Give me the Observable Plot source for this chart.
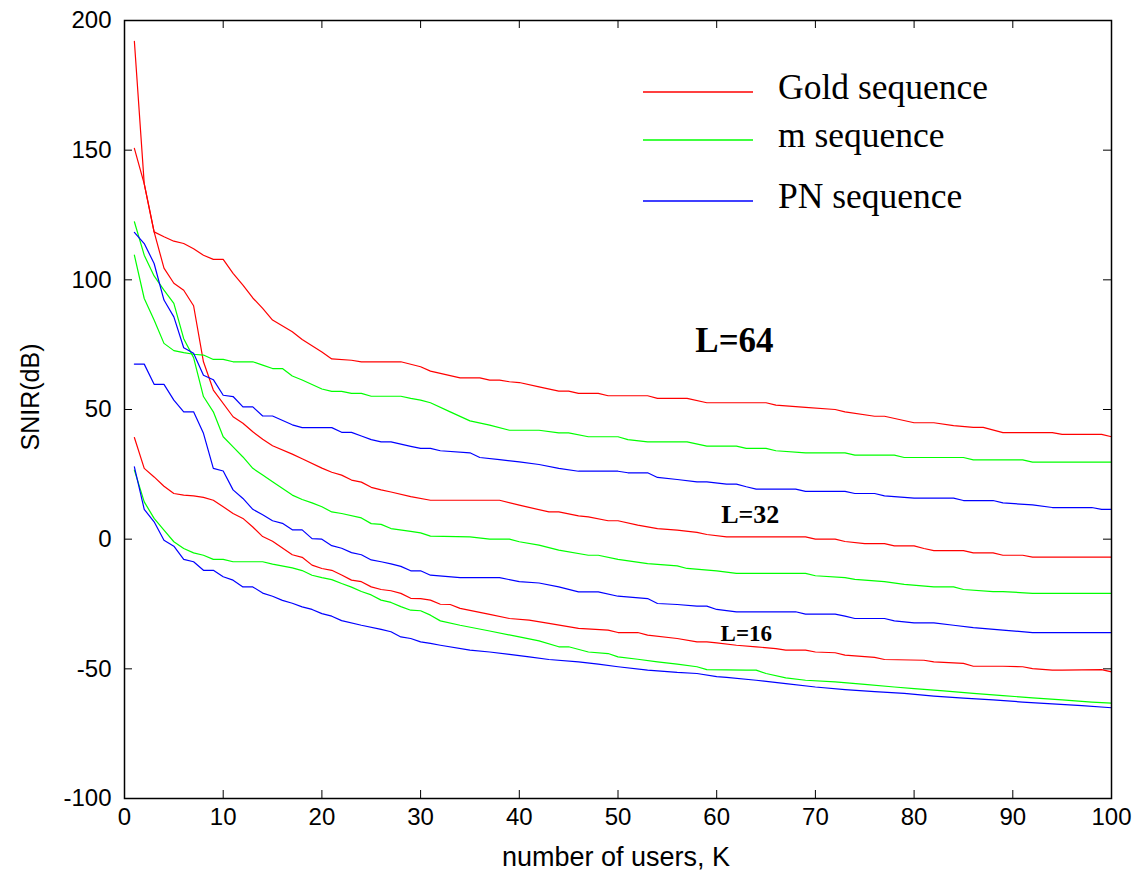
<!DOCTYPE html>
<html><head><meta charset="utf-8">
<script src="https://cdn.jsdelivr.net/npm/d3@7"></script>
<script src="https://cdn.jsdelivr.net/npm/@observablehq/plot@0.6"></script>
<style>
body{margin:0;background:#fff}
#wrap{position:relative;width:1141px;height:874px;background:#fff}
.ov{position:absolute;left:0;top:0}
</style></head><body><div id="wrap"></div>
<script>
const sequences = ["Gold sequence", "m sequence", "PN sequence"];
const colors = ["#ff0000", "#00ff00", "#0000ff"];
const xTicks = [0,10,20,30,40,50,60,70,80,90,100];
const yTicks = [-100,-50,0,50,100,150,200];

const gold64 = [[1,150.7],[2,137],[3,118.5],[4,116.6],[5,114.9],[6,114],[7,112],[8,109.5],[9,107.9],[10,107.9],[11,102.5],[12,98],[13,93],[14,89],[15,84.5],[17,80],[18,77],[20,72.2],[21,69.5],[23,69],[24,68.4],[28,68.4],[30,66.5],[31,64.8],[32,63.9],[34,62.2],[36,62.2],[37,61.3],[38,61.3],[39,60.7],[40,60.4],[42,58.7],[44,57.1],[45,57.1],[46,56.2],[48,56.2],[49,55.3],[53,55.3],[54,54.3],[57,54.3],[59,52.6],[65,52.6],[66,51.7],[69,50.8],[72,50],[73,49.1],[76,47.4],[77,47.4],[80,44.9],[82,44.9],[84,43.8],[86,43.1],[87,43.1],[89,41.1],[94,41.1],[95,40.4],[99,40.4],[100,39.5]];
const gold32 = [[1,192],[2,137],[3,118.5],[4,104.5],[5,98.7],[6,96],[7,90],[8,68.4],[9,57.5],[11,47.2],[12,44.7],[13,41.4],[14,38.5],[15,36],[17,32.8],[18,31],[20,27.4],[21,25.8],[22,24.7],[23,22.8],[24,22],[25,20],[26,19],[27,18.2],[29,16.4],[31,15],[38,15],[40,13.1],[43,10.5],[44,10.5],[46,9],[47,8.6],[49,7.1],[50,7.1],[52,5.4],[54,4.1],[56,3.5],[58,2.6],[59,1.8],[61,0.9],[69,0.9],[70,0],[72,0],[73,-0.9],[75,-1.7],[77,-1.7],[78,-2.6],[80,-2.6],[81,-3.6],[82,-4.4],[85,-4.4],[86,-5.3],[88,-5.3],[89,-6.2],[91,-6.2],[92,-6.9],[100,-6.9]];
const gold16 = [[1,39.2],[2,27.3],[3,24],[4,20.4],[5,17.6],[6,17],[7,16.7],[8,16.1],[9,15],[10,12.5],[11,9.9],[12,8],[13,4.7],[14,1],[15,-0.8],[17,-6],[18,-7],[19,-10],[20,-11.3],[21,-12],[22,-13.8],[23,-15.8],[24,-16.4],[25,-18.4],[26,-19.4],[27,-19.9],[28,-20.9],[29,-22.8],[30,-22.9],[31,-23.5],[32,-25.1],[33,-25.2],[34,-26.7],[37,-29],[39,-30.6],[41,-31.2],[43,-32.5],[46,-34.4],[49,-35.1],[50,-36],[52,-36],[53,-37],[56,-38.3],[58,-39.6],[59,-39.6],[60,-40],[62,-40.9],[64,-41.5],[66,-42.2],[67,-42.8],[69,-42.8],[70,-43.5],[72,-43.8],[73,-44.7],[76,-45.6],[77,-46.4],[81,-46.7],[82,-47.3],[85,-47.9],[86,-49],[89,-49],[91,-49.2],[92,-49.9],[94,-50.5],[95,-50.5],[99,-50.3],[100,-51.2]];
const m64 = [[1,109.5],[2,92.8],[3,84.5],[4,75.5],[5,72.7],[6,71.9],[7,71.3],[8,71],[9,69.3],[10,69.3],[11,68.4],[13,68.4],[14,67.1],[15,65.8],[16,65.8],[17,62.9],[18,61.4],[20,57.9],[21,57],[22,57],[23,56.2],[24,56.2],[25,55.1],[28,55.1],[29,54.3],[30,53.6],[31,52.6],[33,49.1],[35,45.6],[37,44],[39,42],[42,42],[44,41],[45,41],[47,39.5],[50,39.5],[51,38.4],[53,37.5],[57,37.5],[59,35.9],[62,35.9],[63,35],[65,35],[66,34.1],[69,33.3],[73,33.3],[74,32.4],[78,32.4],[79,31.5],[85,31.5],[86,30.6],[91,30.6],[92,29.7],[100,29.7]];
const m32 = [[1,122.4],[2,109.5],[3,101.5],[4,96],[5,90.9],[6,77.3],[7,70],[8,55],[9,49.1],[10,39.5],[11,35.6],[12,31.7],[13,27.3],[14,24.7],[15,22.1],[17,17],[18,15.3],[19,14],[20,12.5],[21,10.5],[22,9.9],[24,8.2],[25,6],[26,5.7],[27,4.1],[29,3],[30,2.4],[31,1.2],[35,0.9],[37,0],[39,0],[40,-1],[42,-2.3],[44,-4.2],[47,-6.2],[48,-6.2],[50,-7.8],[53,-9.4],[56,-10.3],[57,-11.3],[60,-12.2],[62,-13.2],[69,-13.2],[70,-14.1],[73,-14.8],[74,-15.5],[77,-16.4],[79,-17.4],[82,-18.4],[84,-18.4],[85,-19.4],[88,-20.2],[89,-20.2],[92,-20.9],[100,-20.9]];
const m16 = [[1,26.6],[2,14.4],[3,8],[4,3.5],[5,-1],[6,-3.6],[7,-5.3],[8,-6.2],[9,-7.8],[10,-7.8],[11,-8.7],[14,-8.7],[15,-9.6],[17,-11.1],[18,-12.1],[19,-13.9],[20,-14.8],[21,-15.6],[22,-17.1],[23,-18.5],[24,-20.2],[25,-21.5],[26,-23.5],[27,-24.4],[28,-26],[29,-27.4],[30,-27.6],[31,-29.3],[32,-31.5],[34,-33.2],[37,-35.4],[40,-37.7],[42,-39.2],[44,-41.5],[45,-41.5],[47,-43.5],[49,-44.1],[50,-45.4],[52,-46.3],[54,-47.3],[56,-48.2],[58,-49.2],[59,-50.3],[63,-50.5],[64,-50.5],[65,-51.8],[67,-53.5],[69,-54.4],[72,-55],[75,-56],[78,-57],[80,-57.6],[83,-58.5],[86,-59.5],[89,-60.3],[92,-61.2],[95,-62],[98,-62.8],[100,-63.2]];
const pn64 = [[1,118.3],[2,114],[3,106.3],[4,92.2],[5,85.7],[6,73.8],[7,71.7],[8,63.2],[9,61.5],[10,55.5],[11,55],[12,51],[13,51],[14,47.5],[15,47.5],[17,44.1],[18,43],[21,43],[22,41.2],[23,41.2],[24,39.8],[25,38.4],[26,37.5],[27,37.5],[29,35.8],[30,35],[31,35],[32,34.1],[35,33.3],[36,31.5],[38,30.7],[40,29.8],[42,28.8],[44,27.3],[46,26.2],[50,26.2],[51,25.6],[53,25.6],[54,23.8],[56,23],[58,22.1],[59,22.1],[61,21.2],[62,21.2],[63,20.2],[64,19.3],[68,19.3],[69,18.4],[73,18.4],[74,17.6],[76,17.6],[77,16.7],[80,15.8],[84,15.8],[85,14.9],[88,14.9],[89,14],[92,13.2],[94,12.2],[98,12.2],[99,11.5],[100,11.5]];
const pn32 = [[1,67.5],[2,67.5],[3,59.7],[4,59.7],[5,53.6],[6,49.1],[7,49.1],[8,40.8],[9,27.3],[10,26.3],[11,19],[12,15.7],[13,11.5],[14,9.4],[15,7.1],[16,6.1],[17,3.6],[18,3.6],[19,0.2],[20,0],[21,-2.5],[22,-3.5],[23,-5.2],[24,-6],[25,-8],[26,-8.7],[27,-9.5],[28,-10.5],[29,-12.2],[30,-12.2],[31,-13.9],[34,-14.8],[38,-14.8],[40,-16.4],[42,-16.9],[44,-18.4],[46,-20.3],[48,-20.3],[50,-22],[53,-22.9],[54,-24.8],[56,-25.2],[58,-25.8],[59,-25.8],[60,-27.1],[62,-28],[68,-28],[69,-28.9],[72,-28.9],[73,-29.7],[74,-30.6],[77,-30.6],[78,-31.5],[80,-32.3],[82,-32.3],[84,-33.2],[86,-34.1],[89,-35.1],[92,-36],[100,-36]];
const pn16 = [[1,27.9],[2,11.5],[3,6.7],[4,-0.4],[5,-2.7],[6,-7.8],[7,-8.7],[8,-12],[9,-12],[10,-14.5],[11,-15.8],[12,-18.4],[13,-18.4],[14,-20.8],[15,-22],[16,-23.6],[17,-24.7],[18,-26.1],[19,-27.1],[20,-28.7],[21,-29.7],[22,-31.4],[24,-33.2],[26,-34.8],[27,-35.7],[28,-37.7],[29,-38.3],[30,-39.6],[31,-40.2],[32,-40.9],[35,-42.8],[37,-43.5],[39,-44.4],[41,-45.4],[43,-46.4],[46,-47.3],[48,-48.2],[50,-49.2],[53,-50.5],[56,-51.4],[58,-51.8],[60,-53],[61,-53.3],[64,-54.4],[67,-55.7],[70,-57],[73,-58],[76,-58.8],[79,-59.5],[82,-60.5],[85,-61.3],[88,-62],[91,-62.8],[94,-63.5],[97,-64.2],[100,-65]];

const annotations = [
  {text: "L=64", K: 61.8, v: 76.5, size: 35},
  {text: "L=32", K: 63.4, v: 9.6, size: 26},
  {text: "L=16", K: 63.0, v: -36.3, size: 23}
];

const series = [
  {seq: "Gold sequence", L: 64, pts: gold64},
  {seq: "Gold sequence", L: 32, pts: gold32},
  {seq: "Gold sequence", L: 16, pts: gold16},
  {seq: "m sequence", L: 64, pts: m64},
  {seq: "m sequence", L: 32, pts: m32},
  {seq: "m sequence", L: 16, pts: m16},
  {seq: "PN sequence", L: 64, pts: pn64},
  {seq: "PN sequence", L: 32, pts: pn32},
  {seq: "PN sequence", L: 16, pts: pn16}
];
const rows = series.flatMap(s => s.pts.map(([K, v]) => ({K, v, seq: s.seq, id: s.seq + " " + s.L})));

const W = 1141, H = 874, mL = 124, mR = 30, mT = 20, mB = 76;
const frameW = W - mL - mR, frameH = H - mT - mB, tick = 8;
const sans = '"Liberation Sans", Arial, sans-serif';
const serif = '"Liberation Serif", "Times New Roman", serif';

const chart = Plot.plot({
  width: W, height: H,
  marginLeft: mL, marginRight: mR, marginTop: mT, marginBottom: mB,
  x: {domain: [0, 100]},
  y: {domain: [-100, 200]},
  color: {domain: sequences, range: colors},
  style: {fontFamily: sans, background: "#fff", color: "#000"},
  marks: [
    Plot.ruleX(xTicks, {x: d => d, insetTop: frameH - tick, stroke: "#000"}),
    Plot.ruleX(xTicks, {x: d => d, insetBottom: frameH - tick, stroke: "#000"}),
    Plot.ruleY(yTicks, {y: d => d, insetRight: frameW - tick, stroke: "#000"}),
    Plot.ruleY(yTicks, {y: d => d, insetLeft: frameW - tick, stroke: "#000"}),
    Plot.axisX(xTicks, {tickSize: 0, tickPadding: 9, fontSize: 24, label: null, tickFormat: d => String(d)}),
    Plot.axisY(yTicks, {tickSize: 0, tickPadding: 13, fontSize: 24, label: null, tickFormat: d => String(d)}),
    Plot.lineY(rows, {x: "K", y: "v", z: "id", stroke: "seq", strokeWidth: 1.2}),
    Plot.text(annotations, {x: "K", y: "v", text: "text", fontSize: d => d.size, fontWeight: "bold", fontFamily: serif, fill: "#000"}),
    Plot.frame({stroke: "#000", strokeWidth: 1.5})
  ]
});
const wrap = document.getElementById("wrap");
wrap.appendChild(chart);

// legend overlay
const legendY = [92, 140, 201];
const svg = d3.select(wrap).append("svg").attr("class", "ov").attr("width", W).attr("height", H);
sequences.forEach((s, i) => {
  svg.append("line").attr("x1", 643).attr("x2", 753).attr("y1", legendY[i]).attr("y2", legendY[i])
    .attr("stroke", colors[i]).attr("stroke-width", 1.3);
  svg.append("text").attr("x", 778).attr("y", legendY[i] + 7).text(s)
    .attr("font-family", serif).attr("font-size", 35.5).attr("fill", "#000");
});
// axis titles
svg.append("text").attr("x", 616).attr("y", 866).attr("text-anchor", "middle")
  .attr("font-family", sans).attr("font-size", 27).text("number of users, K");
svg.append("text").attr("transform", "translate(39,397) rotate(-90)").attr("text-anchor", "middle")
  .attr("font-family", sans).attr("font-size", 25).text("SNIR(dB)");
</script></body></html>
